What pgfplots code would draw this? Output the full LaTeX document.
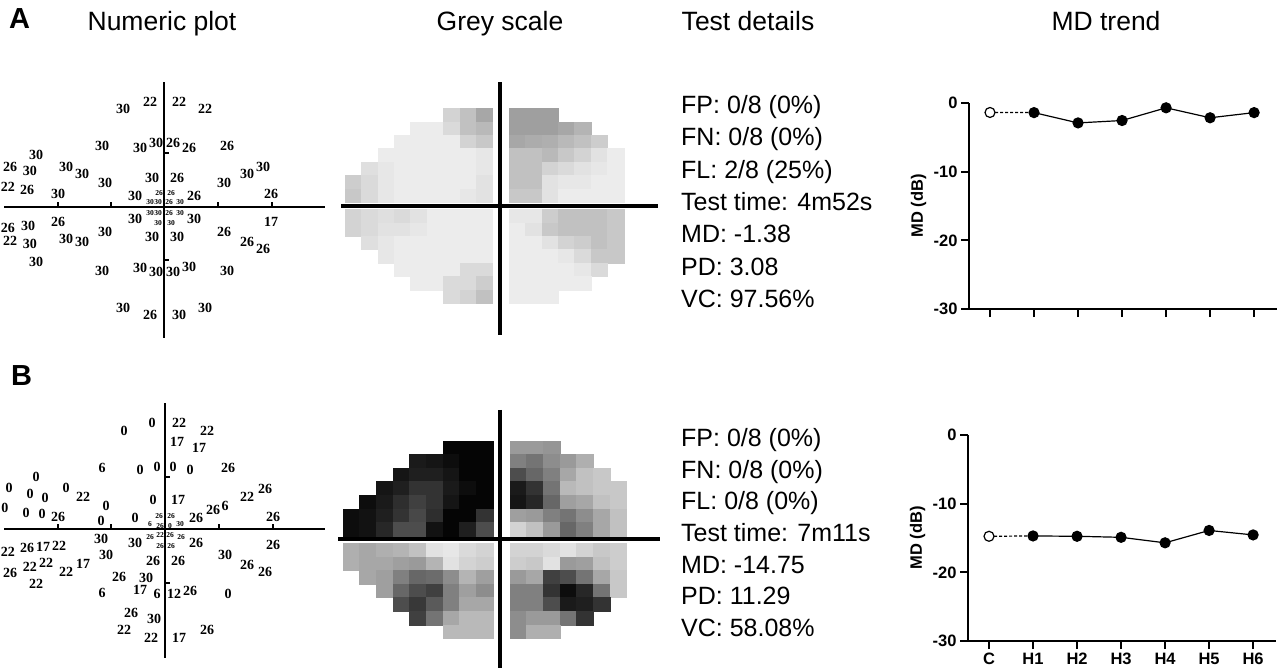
\documentclass[border=0pt]{standalone}
\usepackage{fontspec}
\setmainfont{Liberation Sans}
\newfontfamily\serifnum{Liberation Serif}
\usepackage{pgfplots}
\pgfplotsset{compat=1.18}

% 1 px of the original figure = 1 pt here
\newcommand\titlefont{\fontsize{26.5}{30}\selectfont}
\newcommand\detfont{\fontsize{25}{30}\selectfont}
\newcommand\numfont{\serifnum\bfseries\fontsize{14}{14}\selectfont}
\newcommand\tinynum{\serifnum\bfseries\fontsize{7.5}{7.5}\selectfont}
\newcommand\lblfont{\bfseries\fontsize{16.5}{18}\selectfont}

\pgfplotsset{
  colormap={bw}{gray(0cm)=(0); gray(1cm)=(1)},
  pxpanel/.style={hide axis, scale only axis, clip=false, y dir=reverse, anchor=south west},
  numbers/.style={only marks, mark=none, point meta=explicit symbolic, nodes near coords,
    nodes near coords style={anchor=center, inner sep=0pt, font=#1}},
  cross/.style={black, line width=#1, mark=none, unbounded coords=jump},
  greycells/.style={scatter, only marks, mark=square*, point meta=explicit,
    scatter/use mapped color={draw=mapped color, fill=mapped color}},
  mdtrend/.style={scale only axis, width=308pt, height=206pt, anchor=south west,
    xmin=-0.477, xmax=6.52, ymin=-30, ymax=0,
    axis x line*=bottom, axis y line*=left,
    axis line style={line width=2pt},
    xtick={0,...,6}, ytick={-30,-20,-10,0}, yticklabels={-30,-20,-10,0},
    tick align=outside, major tick length=8pt,
    every tick/.style={black, line width=2pt},
    tick label style={font=\lblfont},
    xticklabel style={text height=12pt, text depth=0pt},
    ylabel={MD (dB)},
    ylabel style={font=\lblfont, at={(axis description cs:-0.164,0.5)}, anchor=center},
    clip=false},
  mdline/.style={black, line width=1.2pt, mark=*, mark size=5pt},
  mddash/.style={black, line width=1.2pt, dash pattern=on 3pt off 2pt},
  mdopen/.style={only marks, mark=*, mark size=5pt, mark options={fill=white, draw=black, line width=1.2pt}},
}

\begin{document}
\begin{tikzpicture}
\path[use as bounding box] (0pt,0pt) rectangle (1284pt,-669pt);

% ---- headings
\node[anchor=base west, inner sep=0pt, font=\bfseries\fontsize{29}{30}\selectfont] at (9pt,-29pt) {A};
\node[anchor=base west, inner sep=0pt, font=\bfseries\fontsize{29}{30}\selectfont] at (11pt,-385pt) {B};
\node[anchor=base, inner sep=0pt, font=\titlefont] at (162pt,-31pt) {Numeric plot};
\node[anchor=base, inner sep=0pt, font=\titlefont] at (500pt,-31pt) {Grey scale};
\node[anchor=base, inner sep=0pt, font=\titlefont] at (748pt,-31pt) {Test details};
\node[anchor=base, inner sep=0pt, font=\titlefont] at (1106pt,-31pt) {MD trend};

% ---- test details
\begin{scope}[every node/.style={anchor=base west, inner sep=0pt, font=\detfont}]
\node at (681pt,-113pt) {FP: 0/8 (0\%)};
\node at (681pt,-145pt) {FN: 0/8 (0\%)};
\node at (681pt,-178pt) {FL: 2/8 (25\%)};
\node at (681pt,-210pt) {Test time: 4m52s};
\node at (681pt,-242pt) {MD: -1.38};
\node at (681pt,-275pt) {PD: 3.08};
\node at (681pt,-307pt) {VC: 97.56\%};
\node at (681pt,-446pt) {FP: 0/8 (0\%)};
\node at (681pt,-478pt) {FN: 0/8 (0\%)};
\node at (681pt,-509pt) {FL: 0/8 (0\%)};
\node at (681pt,-541pt) {Test time: 7m11s};
\node at (681pt,-573pt) {MD: -14.75};
\node at (681pt,-604pt) {PD: 11.29};
\node at (681pt,-636pt) {VC: 58.08\%};
\end{scope}

% ---- numeric plot A
\begin{axis}[pxpanel, xmin=0, xmax=330, ymin=60, ymax=345, width=330pt, height=285pt, at={(0pt,-345pt)}]
\addplot[cross=2.5pt] coordinates {(4,207) (325,207) (nan,nan) (164,82) (164,338)};
\addplot[cross=2pt] coordinates {(58,202) (58,207) (nan,nan) (111,202) (111,207) (nan,nan)
  (218,202) (218,207) (nan,nan) (272,202) (272,207) (nan,nan)
  (164,153) (169,153) (nan,nan) (164,260) (169,260)};
\addplot[numbers=\numfont] coordinates {
  (150,101.7) [22] (179,101.7) [22] (205,109) [22] (123,109) [30]
  (102,146) [30] (140,148) [30] (156,143) [30] (173,143) [26] (189,148) [26] (227,146) [26]
  (36,155) [30] (10,167) [26] (30,171) [30] (66,167) [30] (82,174) [30] (105,183) [30]
  (152,178) [30] (177,178) [26] (224,183) [30] (247,174) [30] (263,167) [30]
  (8,187) [22] (27,190) [26] (58,194) [30] (135,196) [30] (194,196) [26] (271,194) [26]
  (8,228) [26] (28,226) [30] (58,222) [26] (135,219) [30] (194,219) [30] (271,222) [17]
  (105,232) [30] (152,237) [30] (177,237) [30] (224,232) [26]
  (10,241) [22] (30,244) [30] (66,239) [30] (82,242) [30] (247,242) [26] (263,249) [26]
  (36,262) [30] (102,271) [30] (140,268) [30] (156,272) [30] (173,272) [30] (189,267) [30] (227,271) [30]
  (123,308) [30] (150,315) [26] (179,315) [30] (205,308) [30]};
\addplot[numbers=\tinynum] coordinates {
  (159,193) [26] (171,193) [26]
  (150,202) [30] (158,202) [30] (169,202) [26] (180,202) [30]
  (150,213) [30] (158,213) [30] (169,213) [26] (180,213) [30]
  (158,223) [30] (171,223) [30]};
\end{axis}

% ---- numeric plot B
\begin{axis}[pxpanel, xmin=0, xmax=330, ymin=395, ymax=665, width=330pt, height=270pt, at={(0pt,-665pt)}]
\addplot[cross=2.5pt] coordinates {(4,529) (325,529) (nan,nan) (165,403) (165,658)};
\addplot[cross=2pt] coordinates {(58,524) (58,529) (nan,nan) (111,524) (111,529) (nan,nan)
  (219,524) (219,529) (nan,nan) (273,524) (273,529) (nan,nan)
  (165,477) (170,477) (nan,nan) (165,583) (170,583)};
\addplot[numbers=\numfont] coordinates {
  (124,431) [0] (152,423) [0] (179,423) [22] (207,431) [22] (177,442) [17] (199,448) [17]
  (102,468) [6] (140,470) [0] (157,467) [0] (173,467) [0] (190,470) [0] (228,468) [26]
  (36,477) [0] (9,488) [0] (30,494) [0] (45,498) [0] (66,488) [0] (83,497) [22] (106,506) [0]
  (153,500) [0] (178,500) [17] (213,510) [26] (225,506) [6] (247,497) [22] (265,489) [26]
  (5,508) [0] (26,513) [0] (42,514) [0] (58,517) [26] (101,521) [0] (135,518) [0] (196,518) [26] (273,517) [26]
  (101,539) [30] (135,543) [30] (196,543) [26] (273,545) [26]
  (8,552) [22] (27,548) [26] (43,547) [17] (59,546) [22]
  (106,555) [30] (153,561) [26] (178,561) [26] (225,555) [30] (247,565) [26] (265,572) [26]
  (10,573) [26] (30,567) [22] (46,563) [22] (66,572) [22] (83,564) [17] (119,577) [26] (146,578) [30] (36,584) [22]
  (102,593) [6] (140,590) [17] (157,594) [6] (174,594) [12] (190,591) [26] (228,594) [0]
  (131,613) [26] (154,619) [30] (124,630) [22] (151,638) [22] (179,638) [17] (207,630) [26]};
\addplot[numbers=\tinynum] coordinates {
  (159,516) [26] (171,516) [26]
  (150,524) [6] (160,526) [26] (170,526) [0] (180,524) [30]
  (150,537) [26] (160,535) [22] (170,535) [26] (181,537) [26]
  (160,546) [26] (171,546) [26]};
\end{axis}

% ---- grey scale A (cells: column 1-17, row 1-7 above, 8.55-14.55 below)
\begin{axis}[pxpanel, xmin=0.5, xmax=17.5, ymin=0.5, ymax=15.05, width=278.8pt, height=194.97pt,
  at={(345pt,-303.27pt)}, colormap name=bw, point meta min=0, point meta max=1]
\addplot[greycells, mark size=6.7pt, mark options={xscale=1.224}] coordinates {
(7,1)[.82] (8,1)[.75] (9,1)[.65]
(5,2)[.92] (6,2)[.92] (7,2)[.85] (8,2)[.75] (9,2)[.72]
(4,3)[.92] (5,3)[.92] (6,3)[.92] (7,3)[.92] (8,3)[.82] (9,3)[.78]
(3,4)[.92] (4,4)[.92] (5,4)[.92] (6,4)[.92] (7,4)[.92] (8,4)[.92] (9,4)[.9]
(2,5)[.87] (3,5)[.9] (4,5)[.92] (5,5)[.92] (6,5)[.92] (7,5)[.92] (8,5)[.92] (9,5)[.9]
(1,6)[.8] (2,6)[.85] (3,6)[.9] (4,6)[.92] (5,6)[.92] (6,6)[.92] (7,6)[.92] (8,6)[.92] (9,6)[.88]
(1,7)[.78] (2,7)[.85] (3,7)[.9] (4,7)[.92] (5,7)[.92] (6,7)[.92] (7,7)[.92] (8,7)[.9] (9,7)[.88]
(11,1)[.62] (12,1)[.62] (13,1)[.62]
(11,2)[.62] (12,2)[.62] (13,2)[.62] (14,2)[.65] (15,2)[.7]
(11,3)[.65] (12,3)[.67] (13,3)[.68] (14,3)[.72] (15,3)[.75] (16,3)[.8]
(11,4)[.75] (12,4)[.75] (13,4)[.72] (14,4)[.78] (15,4)[.82] (16,4)[.88] (17,4)[.92]
(11,5)[.75] (12,5)[.75] (13,5)[.82] (14,5)[.85] (15,5)[.88] (16,5)[.9] (17,5)[.92]
(11,6)[.75] (12,6)[.75] (13,6)[.88] (14,6)[.9] (15,6)[.9] (16,6)[.92] (17,6)[.92]
(11,7)[.78] (12,7)[.78] (13,7)[.88] (14,7)[.92] (15,7)[.92] (16,7)[.92] (17,7)[.92]
(1,8.55)[.82] (2,8.55)[.85] (3,8.55)[.87] (4,8.55)[.85] (5,8.55)[.88] (6,8.55)[.92] (7,8.55)[.92] (8,8.55)[.92] (9,8.55)[.92]
(1,9.55)[.82] (2,9.55)[.85] (3,9.55)[.88] (4,9.55)[.88] (5,9.55)[.9] (6,9.55)[.92] (7,9.55)[.92] (8,9.55)[.92] (9,9.55)[.92]
(2,10.55)[.87] (3,10.55)[.9] (4,10.55)[.92] (5,10.55)[.92] (6,10.55)[.92] (7,10.55)[.92] (8,10.55)[.92] (9,10.55)[.92]
(3,11.55)[.9] (4,11.55)[.92] (5,11.55)[.92] (6,11.55)[.92] (7,11.55)[.92] (8,11.55)[.92] (9,11.55)[.92]
(4,12.55)[.92] (5,12.55)[.92] (6,12.55)[.92] (7,12.55)[.92] (8,12.55)[.85] (9,12.55)[.85]
(5,13.55)[.92] (6,13.55)[.92] (7,13.55)[.85] (8,13.55)[.85] (9,13.55)[.8]
(7,14.55)[.85] (8,14.55)[.82] (9,14.55)[.75]
(11,8.55)[.9] (12,8.55)[.9] (13,8.55)[.8] (14,8.55)[.75] (15,8.55)[.75] (16,8.55)[.75] (17,8.55)[.78]
(11,9.55)[.92] (12,9.55)[.88] (13,9.55)[.78] (14,9.55)[.75] (15,9.55)[.75] (16,9.55)[.75] (17,9.55)[.78]
(11,10.55)[.92] (12,10.55)[.92] (13,10.55)[.88] (14,10.55)[.82] (15,10.55)[.8] (16,10.55)[.75] (17,10.55)[.78]
(11,11.55)[.92] (12,11.55)[.92] (13,11.55)[.92] (14,11.55)[.9] (15,11.55)[.85] (16,11.55)[.78] (17,11.55)[.78]
(11,12.55)[.92] (12,12.55)[.92] (13,12.55)[.92] (14,12.55)[.92] (15,12.55)[.9] (16,12.55)[.85]
(11,13.55)[.92] (12,13.55)[.92] (13,13.55)[.92] (14,13.55)[.92] (15,13.55)[.92]
(11,14.55)[.92] (12,14.55)[.92] (13,14.55)[.92]};
\addplot[cross=4pt] coordinates {(0.256,7.79) (19.585,7.79) (nan,nan) (9.95,-1.46) (9.95,17.42)};
\end{axis}

% ---- grey scale B
\begin{axis}[pxpanel, xmin=0.5, xmax=17.5, ymin=0.5, ymax=15.04, width=283.9pt, height=197.74pt,
  at={(342.7pt,-638.44pt)}, colormap name=bw, point meta min=0, point meta max=1]
\addplot[greycells, mark size=6.8pt, mark options={xscale=1.228}] coordinates {
(7,1)[.02] (8,1)[.02] (9,1)[.02]
(5,2)[.1] (6,2)[.08] (7,2)[.05] (8,2)[.02] (9,2)[.02]
(4,3)[.08] (5,3)[.12] (6,3)[.12] (7,3)[.08] (8,3)[.02] (9,3)[.02]
(3,4)[.08] (4,4)[.12] (5,4)[.2] (6,4)[.2] (7,4)[.1] (8,4)[.05] (9,4)[.02]
(2,5)[.05] (3,5)[.1] (4,5)[.18] (5,5)[.25] (6,5)[.2] (7,5)[.08] (8,5)[.02] (9,5)[.02]
(1,6)[.05] (2,6)[.07] (3,6)[.12] (4,6)[.2] (5,6)[.28] (6,6)[.18] (7,6)[.02] (8,6)[.02] (9,6)[.2]
(1,7)[.05] (2,7)[.07] (3,7)[.15] (4,7)[.3] (5,7)[.3] (6,7)[.07] (7,7)[.02] (8,7)[.12] (9,7)[.3]
(11,1)[.6] (12,1)[.6] (13,1)[.58]
(11,2)[.5] (12,2)[.45] (13,2)[.55] (14,2)[.6] (15,2)[.68]
(11,3)[.3] (12,3)[.4] (13,3)[.5] (14,3)[.65] (15,3)[.75] (16,3)[.78]
(11,4)[.1] (12,4)[.2] (13,4)[.45] (14,4)[.72] (15,4)[.75] (16,4)[.78] (17,4)[.78]
(11,5)[.08] (12,5)[.15] (13,5)[.4] (14,5)[.62] (15,5)[.65] (16,5)[.75] (17,5)[.78]
(11,6)[.62] (12,6)[.6] (13,6)[.5] (14,6)[.45] (15,6)[.55] (16,6)[.65] (17,6)[.75]
(11,7)[.82] (12,7)[.75] (13,7)[.6] (14,7)[.4] (15,7)[.5] (16,7)[.65] (17,7)[.75]
(1,8.54)[.68] (2,8.54)[.65] (3,8.54)[.68] (4,8.54)[.7] (5,8.54)[.75] (6,8.54)[.88] (7,8.54)[.9] (8,8.54)[.85] (9,8.54)[.82]
(1,9.54)[.68] (2,9.54)[.65] (3,9.54)[.65] (4,9.54)[.62] (5,9.54)[.6] (6,9.54)[.7] (7,9.54)[.88] (8,9.54)[.82] (9,9.54)[.8]
(2,10.54)[.65] (3,10.54)[.62] (4,10.54)[.5] (5,10.54)[.4] (6,10.54)[.42] (7,10.54)[.55] (8,10.54)[.7] (9,10.54)[.62]
(3,11.54)[.62] (4,11.54)[.4] (5,11.54)[.3] (6,11.54)[.25] (7,11.54)[.5] (8,11.54)[.62] (9,11.54)[.55]
(4,12.54)[.3] (5,12.54)[.22] (6,12.54)[.35] (7,12.54)[.5] (8,12.54)[.65] (9,12.54)[.65]
(5,13.54)[.25] (6,13.54)[.45] (7,13.54)[.65] (8,13.54)[.72] (9,13.54)[.72]
(7,14.54)[.72] (8,14.54)[.72] (9,14.54)[.72]
(11,8.54)[.82] (12,8.54)[.82] (13,8.54)[.85] (14,8.54)[.88] (15,8.54)[.82] (16,8.54)[.78] (17,8.54)[.8]
(11,9.54)[.8] (12,9.54)[.78] (13,9.54)[.88] (14,9.54)[.6] (15,9.54)[.62] (16,9.54)[.75] (17,9.54)[.8]
(11,10.54)[.6] (12,10.54)[.65] (13,10.54)[.25] (14,10.54)[.3] (15,10.54)[.45] (16,10.54)[.65] (17,10.54)[.78]
(11,11.54)[.5] (12,11.54)[.5] (13,11.54)[.2] (14,11.54)[.05] (15,11.54)[.15] (16,11.54)[.45] (17,11.54)[.78]
(11,12.54)[.5] (12,12.54)[.5] (13,12.54)[.3] (14,12.54)[.1] (15,12.54)[.12] (16,12.54)[.2]
(11,13.54)[.55] (12,13.54)[.6] (13,13.54)[.6] (14,13.54)[.45] (15,13.54)[.2]
(11,14.54)[.55] (12,14.54)[.68] (13,14.54)[.68]};
\addplot[cross=4pt] coordinates {(0.22,7.73) (19.5,7.73) (nan,nan) (9.92,-1.76) (9.92,17.21)};
\end{axis}

% ---- MD trend A
\begin{axis}[mdtrend, at={(969pt,-309pt)}, xticklabels={{},{},{},{},{},{},{}}]
\addplot[mddash] coordinates {(0,-1.38) (1,-1.4)};
\addplot[mdline] coordinates {(1,-1.4) (2,-2.9) (3,-2.55) (4,-0.7) (5,-2.15) (6,-1.4)};
\addplot[mdopen] coordinates {(0,-1.38)};
\end{axis}

% ---- MD trend B
\begin{axis}[mdtrend, at={(968pt,-641pt)}, xticklabels={C,H1,H2,H3,H4,H5,H6}]
\addplot[mddash] coordinates {(0,-14.75) (1,-14.7)};
\addplot[mdline] coordinates {(1,-14.7) (2,-14.75) (3,-14.9) (4,-15.7) (5,-13.9) (6,-14.55)};
\addplot[mdopen] coordinates {(0,-14.75)};
\end{axis}
\end{tikzpicture}
\end{document}
